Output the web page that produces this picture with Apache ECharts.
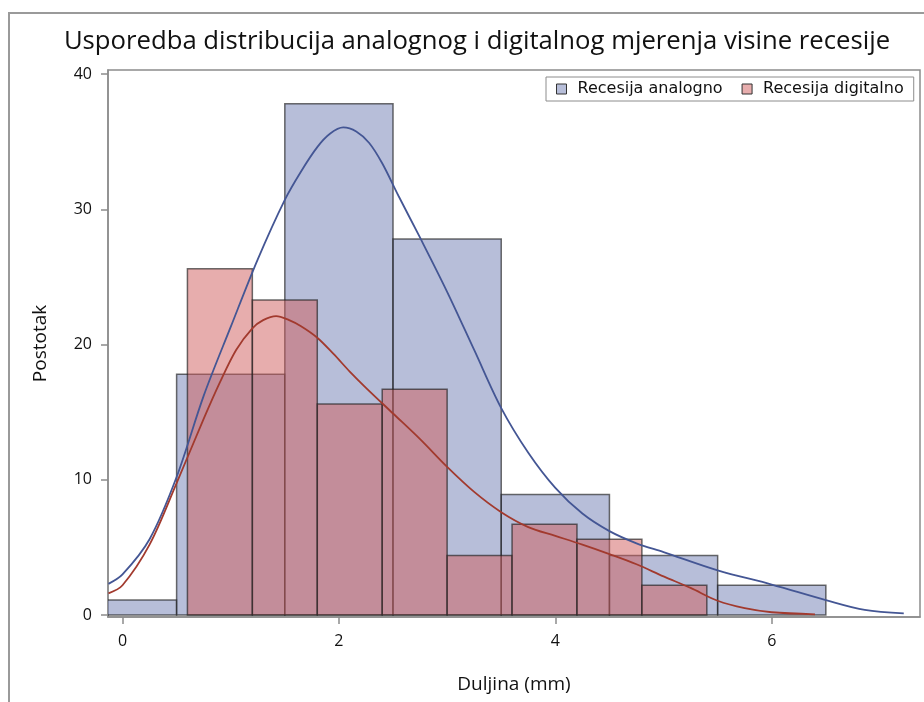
<!DOCTYPE html>
<html>
<head>
<meta charset="utf-8">
<script src="https://cdn.jsdelivr.net/npm/echarts@6/dist/echarts.min.js"></script>
<style>
  html, body { margin: 0; padding: 0; background: #fff; }
  #chart { width: 924px; height: 702px; }
</style>
</head>
<body>
<div id="chart"></div>
<script>
// histogram bins (percent of measurements)
const analogBinMid = [0, 1, 2, 3, 4, 5, 6];
const analogBinWidth = 1;
const analogPct = [1.1, 17.8, 37.8, 27.8, 8.9, 4.4, 2.2];

const digitalBinMid = [0.9, 1.5, 2.1, 2.7, 3.3, 3.9, 4.5, 5.1];
const digitalBinWidth = 0.6;
const digitalPct = [25.6, 23.3, 15.6, 16.7, 4.4, 6.7, 5.6, 2.2];

// kernel density curves
const analogDensX = [-0.13, 0, 0.25, 0.5, 0.75, 1.0, 1.25, 1.5, 1.65, 1.8, 1.92, 2.04, 2.16, 2.28, 2.4, 2.55, 2.75, 3.0, 3.25, 3.5, 3.75, 4.0, 4.25, 4.5, 4.75, 5.0, 5.5, 6.0, 6.5, 6.86, 7.22];
const analogDensY = [2.3, 3.0, 5.6, 10.2, 16.2, 21.3, 26.3, 30.7, 32.8, 34.6, 35.6, 36.05, 35.75, 34.9, 33.4, 31.0, 27.9, 23.9, 19.6, 15.3, 12.0, 9.4, 7.5, 6.2, 5.3, 4.65, 3.3, 2.25, 1.1, 0.37, 0.12];

const digitalDensX = [-0.13, 0, 0.25, 0.5, 0.75, 0.9, 1.05, 1.2, 1.3, 1.42, 1.54, 1.65, 1.8, 1.95, 2.1, 2.25, 2.5, 2.75, 3.0, 3.25, 3.5, 3.75, 4.0, 4.25, 4.5, 4.75, 5.0, 5.25, 5.5, 5.75, 6.0, 6.4];
const digitalDensY = [1.6, 2.2, 5.2, 9.75, 14.5, 17.2, 19.6, 21.2, 21.8, 22.1, 21.8, 21.35, 20.5, 19.3, 18.0, 16.8, 14.9, 13.0, 10.95, 9.1, 7.6, 6.5, 5.85, 5.2, 4.5, 3.75, 2.85, 2.0, 1.05, 0.5, 0.2, 0.05];

const xTicks = [0, 2, 4, 6];
const yTicks = [0, 10, 20, 30, 40];

const analogName = 'Recesija analogno';
const digitalName = 'Recesija digitalno';

const analogFill = 'rgba(111,126,179,0.5)';
const digitalFill = 'rgba(208,91,91,0.5)';

const chart = echarts.init(document.getElementById('chart'));

function binData(mid, width, pct) {
  return mid.map((m, i) => [m - width / 2, m + width / 2, pct[i]]);
}

function barRenderer(fill) {
  return function (params, api) {
    const p0 = api.coord([api.value(0), api.value(2)]);
    const p1 = api.coord([api.value(1), 0]);
    return {
      type: 'rect',
      shape: { x: p0[0], y: p0[1], width: p1[0] - p0[0], height: p1[1] - p0[1] },
      style: { fill: fill, stroke: 'rgba(30,30,30,0.65)', lineWidth: 1.5 }
    };
  };
}

const axisGray = '#8c8c8c';

const option = {
  backgroundColor: '#fff',
  animation: false,
  title: {
    text: 'Usporedba distribucija analognog i digitalnog mjerenja visine recesije',
    left: 472,
    top: 24,
    textAlign: 'center',
    textStyle: { fontFamily: 'Open Sans', fontSize: 25.7, fontWeight: 'normal', color: '#111' }
  },
  legend: {
    left: 546,
    top: 77,
    padding: [3, 10, 3, 10],
    itemGap: 19,
    itemWidth: 10,
    itemHeight: 10,
    borderColor: '#8c8c8c',
    borderWidth: 1,
    textStyle: { fontFamily: 'DejaVu Sans', fontSize: 16, color: '#111', padding: [0, 0, 0, 6], lineHeight: 18 },
    data: [
      { name: analogName, icon: 'rect', itemStyle: { color: '#b7bed9', borderColor: '#333', borderWidth: 1 } },
      { name: digitalName, icon: 'rect', itemStyle: { color: '#e7adad', borderColor: '#333', borderWidth: 1 } }
    ]
  },
  graphic: [
    {
      type: 'rect',
      shape: { x: 9, y: 13, width: 940, height: 720 },
      style: { fill: null, stroke: '#9a9a9a', lineWidth: 2 },
      silent: true
    }
  ],
  grid: {
    left: 108, right: 4, top: 70, bottom: 85,
    show: true, borderColor: axisGray, borderWidth: 1.5
  },
  xAxis: {
    type: 'value',
    min: -0.134,
    max: 7.37,
    name: 'Duljina (mm)',
    nameLocation: 'middle',
    nameGap: 58,
    nameTextStyle: { fontFamily: 'Open Sans', fontSize: 19, color: '#111' },
    axisLine: { show: true, onZero: false, lineStyle: { color: axisGray, width: 1.5 } },
    axisTick: { show: true, length: 7, customValues: xTicks, lineStyle: { color: axisGray, width: 1.5 } },
    axisLabel: { customValues: xTicks, margin: 16, fontFamily: 'Open Sans', fontSize: 16, color: '#111' },
    splitLine: { show: false }
  },
  yAxis: {
    type: 'value',
    min: -0.15,
    max: 40.3,
    name: 'Postotak',
    nameLocation: 'middle',
    nameGap: 58,
    nameTextStyle: { fontFamily: 'Open Sans', fontSize: 19, color: '#111' },
    axisLine: { show: true, onZero: false, lineStyle: { color: axisGray, width: 1.5 } },
    axisTick: { show: true, length: 7, customValues: yTicks, lineStyle: { color: axisGray, width: 1.5 } },
    axisLabel: { customValues: yTicks, margin: 16, fontFamily: 'Open Sans', fontSize: 16, color: '#111' },
    splitLine: { show: false }
  },
  series: [
    {
      name: analogName,
      type: 'custom',
      clip: true,
      renderItem: barRenderer(analogFill),
      encode: { x: [0, 1], y: 2 },
      itemStyle: { color: '#b7bed9' },
      data: binData(analogBinMid, analogBinWidth, analogPct),
      z: 1
    },
    {
      name: digitalName,
      type: 'custom',
      clip: true,
      renderItem: barRenderer(digitalFill),
      encode: { x: [0, 1], y: 2 },
      itemStyle: { color: '#e7adad' },
      data: binData(digitalBinMid, digitalBinWidth, digitalPct),
      z: 2
    },
    {
      name: 'analog density',
      type: 'line',
      smooth: 0.33,
      showSymbol: false,
      clip: true,
      lineStyle: { color: '#445694', width: 1.8 },
      data: analogDensX.map((x, i) => [x, analogDensY[i]]),
      z: 3
    },
    {
      name: 'digital density',
      type: 'line',
      smooth: 0.33,
      showSymbol: false,
      clip: true,
      lineStyle: { color: '#a23a2e', width: 1.8 },
      data: digitalDensX.map((x, i) => [x, digitalDensY[i]]),
      z: 3
    }
  ]
};

chart.setOption(option);
</script>
</body>
</html>
